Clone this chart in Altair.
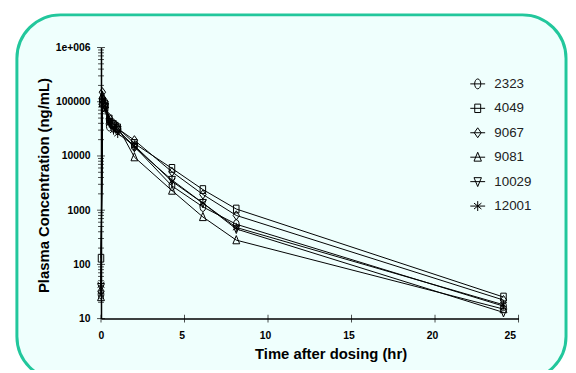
import altair as alt
import pandas as pd

# ---- data ----
series = ["2323", "4049", "9067", "9081", "10029", "12001"]
times = [0, 0.083, 0.25, 0.5, 0.75, 1.0, 2.0, 4.25, 6.1, 8.1, 24.1]
conc_2323 = [28, 110000, 90000, 35000, 33000, 30000, 15000, 2800, 1150, 550, 17]
conc_4049 = [130, 95000, 80000, 48000, 38000, 33000, 17000, 5900, 2400, 1050, 25]
conc_9067 = [32, 150000, 100000, 50000, 40000, 32000, 19500, 5100, 1950, 800, 22]
conc_9081 = [25, 130000, 90000, 45000, 38000, 35000, 9500, 2300, 750, 280, 15]
conc_10029 = [38, 100000, 80000, 42000, 36000, 30000, 14500, 3600, 1350, 450, 13]
conc_12001 = [42, 90000, 70000, 40000, 30000, 26000, 15500, 3400, 1350, 480, 18]
all_conc = [conc_2323, conc_4049, conc_9067, conc_9081, conc_10029, conc_12001]

x_ticks = [0, 5, 10, 15, 20, 25]
y_major = [10, 100, 1000, 10000, 100000, 1000000]
y_minor = [m * 10 ** k for k in range(1, 6) for m in range(2, 10)]

rows = []
for s, vals in zip(series, all_conc):
    for t, v in zip(times, vals):
        if v is not None:
            rows.append({"series": s, "t": t, "c": v})
df = pd.DataFrame(rows)

marker_paths = [
    "M0,-1A0.62,1 0 1,1 0,1A0.62,1 0 1,1 0,-1Z",
    "M-0.6,-0.85L0.6,-0.85L0.6,0.85L-0.6,0.85Z",
    "M0,-1L0.7,0L0,1L-0.7,0Z",
    "M0,-1L0.75,0.8L-0.75,0.8Z",
    "M0,1L0.75,-0.8L-0.75,-0.8Z",
    "M0,-1L0,1M-0.75,-0.6L0.75,0.6M-0.75,0.6L0.75,-0.6",
]
legend_paths = [p + "M-1.5,0L1.5,0" for p in marker_paths]

FONT = "Liberation Sans"
W, H = 422, 274

xscale = alt.Scale(domain=[0, 25], nice=False, zero=False)
yscale = alt.Scale(type="log", domain=[10, 1000000], nice=False)

x_axis = alt.Axis(
    values=x_ticks, format="d", ticks=False, grid=False, zindex=1,
    domainColor="black", domainWidth=1.5,
    labelFont=FONT, labelFontWeight="bold", labelFontSize=10.5, labelColor="black",
    labelPadding=12, labelOffset=-3,
    title="Time after dosing (hr)", titleFont=FONT, titleFontSize=15,
    titleFontWeight="bold", titleColor="black",
    titleX=232, titleY=40, titleAlign="center", titleBaseline="alphabetic",
)
y_axis = alt.Axis(
    values=y_major, ticks=False, grid=False, zindex=1,
    domainColor="black", domainWidth=1.5,
    labelFont=FONT, labelFontWeight="bold", labelFontSize=10.5, labelColor="black",
    labelPadding=11,
    labelExpr="datum.value >= 1000000 ? '1e+006' : format(datum.value, 'd')",
    title="Plasma Concentration (ng/mL)", titleFont=FONT, titleFontSize=15,
    titleFontWeight="bold", titleColor="black",
    titleX=-58, titleY=139, titleAngle=270, titleAlign="center", titleBaseline="middle",
)

bg = alt.Chart(pd.DataFrame({"a": [0]})).mark_rect(
    cornerRadius=44, fill="#EFFFFD", stroke="#22C79C", strokeWidth=3
).encode(
    x=alt.value(-85), x2=alt.value(470), y=alt.value(-33), y2=alt.value(336)
)

lines = alt.Chart(df).mark_line(color="black", strokeWidth=1).encode(
    x=alt.X("t:Q", scale=xscale, axis=x_axis),
    y=alt.Y("c:Q", scale=yscale, axis=y_axis),
    detail="series:N",
)

points = alt.Chart(df).mark_point(
    filled=False, color="black", strokeWidth=1, size=85, opacity=1
).encode(
    x=alt.X("t:Q", scale=xscale, axis=x_axis),
    y=alt.Y("c:Q", scale=yscale, axis=y_axis),
    shape=alt.Shape("series:N", scale=alt.Scale(domain=series, range=marker_paths), legend=None),
)

legend_layer = alt.Chart(df).mark_point(
    filled=False, color="black", strokeWidth=1, size=100, opacity=0
).encode(
    x=alt.X("t:Q", scale=xscale, axis=x_axis),
    y=alt.Y("c:Q", scale=yscale, axis=y_axis),
    shape=alt.Shape(
        "series:N",
        scale=alt.Scale(domain=series, range=legend_paths),
        legend=alt.Legend(
            orient="none", legendX=374, legendY=30, title=None,
            labelFont=FONT, labelFontSize=13.5, labelColor="#222222",
            symbolSize=100, symbolStrokeWidth=1, symbolStrokeColor="black",
            symbolFillColor="transparent", symbolOpacity=1,
            labelOffset=10, rowPadding=9.7, padding=0,
        ),
    ),
)

xt = alt.Chart(pd.DataFrame({"t": x_ticks})).mark_tick(
    orient="vertical", size=8, thickness=1, color="black"
).encode(x=alt.X("t:Q", scale=xscale, axis=x_axis), y=alt.value(H))

yt_major = alt.Chart(pd.DataFrame({"c": y_major})).mark_tick(
    orient="horizontal", size=8, thickness=1, color="black"
).encode(y=alt.Y("c:Q", scale=yscale, axis=y_axis), x=alt.value(0))

yt_minor = alt.Chart(pd.DataFrame({"c": y_minor})).mark_tick(
    orient="horizontal", size=6, thickness=1, color="black"
).encode(y=alt.Y("c:Q", scale=yscale, axis=y_axis), x=alt.value(0))

chart = alt.layer(bg, xt, yt_major, yt_minor, lines, points, legend_layer).resolve_scale(
    shape="independent"
).properties(
    width=W, height=H,
    autosize=alt.AutoSizeParams(type="none"),
    padding={"left": 94, "top": 38, "right": 50, "bottom": 50},
    background="white",
).configure_view(stroke=None)

chart.save("out.html", embed_options={"renderer": "svg", "actions": False})
